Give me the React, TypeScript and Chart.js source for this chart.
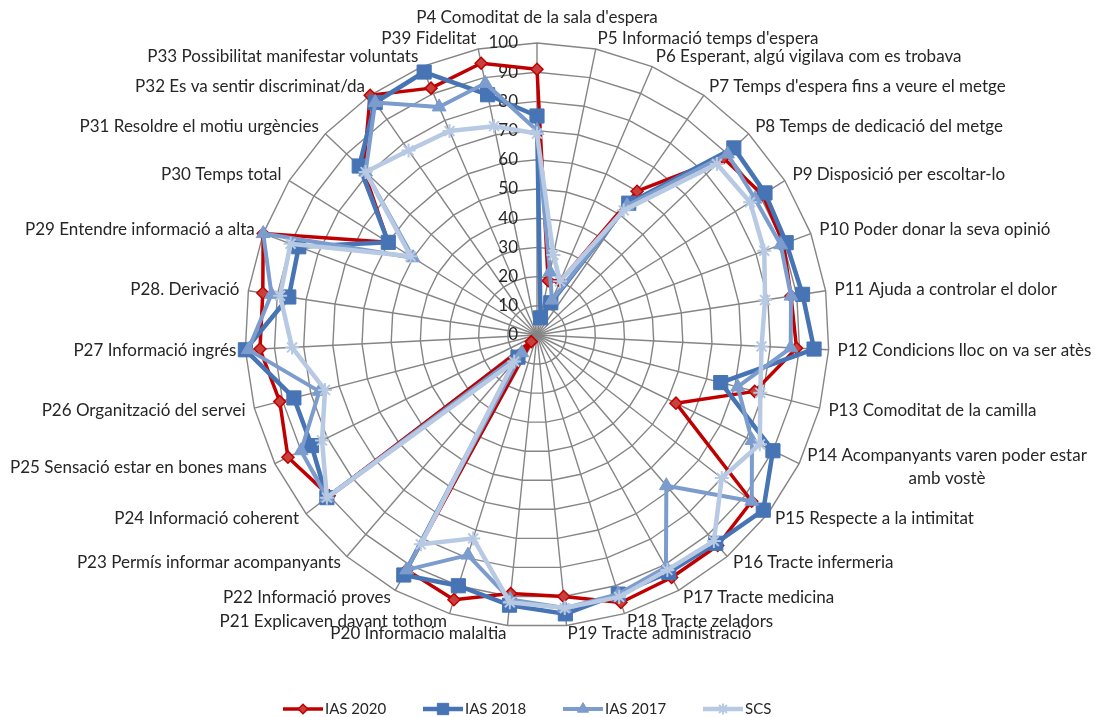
import React, { useEffect, useRef } from 'react';
import { Chart, registerables } from 'chart.js';
import { drawPoint } from 'chart.js/helpers';

Chart.register(...registerables);

const categories: (string | string[])[] = [
  'P4 Comoditat de la sala d\'espera',
  'P5 Informació temps d\'espera',
  'P6 Esperant, algú vigilava com es trobava',
  'P7 Temps d\'espera fins a veure el metge',
  'P8 Temps de dedicació del metge',
  'P9 Disposició per escoltar-lo',
  'P10 Poder donar la seva opinió',
  'P11 Ajuda a controlar el dolor',
  'P12 Condicions lloc on va ser atès',
  'P13 Comoditat de la camilla',
  ['P14 Acompanyants varen poder estar', 'amb vostè'],
  'P15 Respecte a la intimitat',
  'P16 Tracte infermeria',
  'P17 Tracte medicina',
  'P18 Tracte zeladors',
  'P19 Tracte administració',
  'P20 Informacio malaltia',
  'P21 Explicaven davant tothom',
  'P22 Informació proves',
  'P23 Permís informar acompanyants',
  'P24 Informació coherent',
  'P25 Sensació estar en bones mans',
  'P26 Organització del servei',
  'P27 Informació ingrés',
  'P28. Derivació',
  'P29 Entendre informació a alta',
  'P30 Temps total',
  'P31 Resoldre el motiu urgències',
  'P32 Es va sentir discriminat/da',
  'P33 Possibilitat manifestar voluntats',
  'P39 Fidelitat',
];

const ias2020 = [91, 19, 20, 60, 88, 91, 90, 88, 89, 77, 53, 93, 95, 95, 96, 90, 89, 95, 92, 3, 90, 95, 91, 95, 95, 100, 60, 82, 100, 92, 95];
const ias2018 = [75, 6, 12, 55, 93, 92, 91, 92, 95, 65, 90, 98, 94, 93, 93, 96, 93, 90, 94, 10, 91, 86, 86, 100, 86, 87, 60, 84, 97, 98, 84];
const ias2017 = [70, 22, 13, 54, 90, 88, 89, 88, 87, 71, 82, 93, 68, 91, 93, 94, 91, 79, 92, 8, 91, 90, 77, 99, 92, 100, 50, 81, 97, 85, 88];
const scs = [69, 28, 20, 52, 85, 86, 83, 79, 77, 79, 85, 80, 93, 92, 94, 94, 92, 73, 82, 12, 91, 82, 75, 84, 89, 90, 51, 81, 77, 76, 73];

const tickValues = [0, 10, 20, 30, 40, 50, 60, 70, 80, 90, 100];
const legendOrder = ['IAS 2020', 'IAS 2018', 'IAS 2017', 'SCS'];

const FONT = 'Lato';
const TEXT = '#262626';

const textPlugin = {
  id: 'radarText',
  beforeDatasetsDraw(chart: any) {
    const s = chart.scales.r;
    const ctx = chart.ctx;
    ctx.save();
    ctx.font = `17px ${FONT}`;
    ctx.fillStyle = TEXT;
    ctx.textAlign = 'right';
    ctx.textBaseline = 'middle';
    tickValues.forEach((v) => {
      const d = s.getDistanceFromCenterForValue(v);
      ctx.fillText(String(v), s.xCenter - 19, s.yCenter - d);
    });
    ctx.restore();
  },
  afterDraw(chart: any) {
    const s = chart.scales.r;
    const ctx = chart.ctx;
    const R = s.drawingArea;
    ctx.save();
    ctx.font = `17px ${FONT}`;
    ctx.fillStyle = TEXT;
    ctx.textBaseline = 'middle';
    ctx.textAlign = 'center';
    const lh = 23;
    categories.forEach((lab, i) => {
      const lines = Array.isArray(lab) ? lab : [lab];
      const ang = s.getIndexAngle(i);
      const sin = Math.sin(ang);
      const cos = Math.cos(ang);
      const gapX = 9;
      const gapY = i === 0 ? 25 : cos >= 0 ? 11 : 8;
      const x = s.xCenter + (R + gapX) * sin;
      const yC = s.yCenter - (R + gapY) * cos;
      const W = Math.max(...lines.map((t) => ctx.measureText(t).width));
      let left;
      if (Math.abs(sin) < 0.01) left = x - W / 2;
      else if (sin > 0) left = x;
      else left = x - W;
      const top = yC - ((lines.length - 1) * lh) / 2;
      lines.forEach((t, k) => ctx.fillText(t, left + W / 2, top + k * lh));
    });

    // legend
    const y = 709;
    ctx.font = `15px ${FONT}`;
    legendOrder.forEach((name, k) => {
      const ds = chart.data.datasets.find((d: any) => d.label === name);
      const x0 = 283 + 140 * k;
      ctx.save();
      ctx.strokeStyle = ds.borderColor;
      ctx.lineWidth = ds.borderWidth;
      ctx.beginPath();
      ctx.moveTo(x0, y);
      ctx.lineTo(x0 + 40, y);
      ctx.stroke();
      ctx.fillStyle = ds.pointBackgroundColor;
      ctx.strokeStyle = ds.pointBorderColor;
      ctx.lineWidth = ds.pointBorderWidth;
      drawPoint(ctx, { pointStyle: ds.pointStyle, radius: ds.pointRadius * 0.8, rotation: 0, borderWidth: ds.pointBorderWidth } as any, x0 + 20, y);
      ctx.restore();
      ctx.fillStyle = TEXT;
      ctx.textAlign = 'left';
      ctx.fillText(name, x0 + 42, y);
    });
    ctx.restore();
  },
};

export default function App() {
  const ref = useRef<HTMLCanvasElement>(null);
  useEffect(() => {
    if (!ref.current) return;
    const chart = new Chart(ref.current, {
      type: 'radar',
      data: {
        labels: categories as any,
        datasets: [
          {
            label: 'SCS',
            data: scs,
            borderColor: '#B7C9E3',
            borderWidth: 4.5,
            pointStyle: 'star',
            pointRadius: 7,
            pointBackgroundColor: '#B7C9E3',
            pointBorderColor: '#B7C9E3',
            pointBorderWidth: 2,
            fill: false,
          },
          {
            label: 'IAS 2017',
            data: ias2017,
            borderColor: '#7B9CCC',
            borderWidth: 4,
            pointStyle: 'triangle',
            pointRadius: 8,
            pointBackgroundColor: '#7B9CCC',
            pointBorderColor: '#7B9CCC',
            pointBorderWidth: 1,
            fill: false,
          },
          {
            label: 'IAS 2018',
            data: ias2018,
            borderColor: '#4774B4',
            borderWidth: 4.5,
            pointStyle: 'rect',
            pointRadius: 10,
            pointBackgroundColor: '#4774B4',
            pointBorderColor: '#4774B4',
            pointBorderWidth: 1,
            fill: false,
          },
          {
            label: 'IAS 2020',
            data: ias2020,
            borderColor: '#C00000',
            borderWidth: 3.5,
            pointStyle: 'rectRot',
            pointRadius: 6,
            pointBackgroundColor: '#C8403C',
            pointBorderColor: '#C00000',
            pointBorderWidth: 1.5,
            fill: false,
          },
        ] as any,
      },
      options: {
        responsive: false,
        animation: false,
        devicePixelRatio: 1,
        layout: { padding: { left: 245, top: 43, right: 264, bottom: 90 } },
        elements: { line: { tension: 0, borderJoinStyle: 'round' } },
        plugins: {
          legend: { display: false },
          tooltip: { enabled: false },
        },
        scales: {
          r: {
            min: 0,
            max: 100,
            ticks: { stepSize: 10, display: false },
            pointLabels: { display: false },
            grid: { color: '#858585', lineWidth: 1.4 },
            angleLines: { color: '#858585', lineWidth: 1.4 },
          },
        },
      } as any,
      plugins: [textPlugin],
    });
    return () => chart.destroy();
  }, []);
  return (
    <div style={{ position: 'fixed', left: 0, top: 0, width: 1093, height: 717, background: '#ffffff' }}>
      <canvas ref={ref} width={1093} height={717} style={{ display: 'block' }} />
    </div>
  );
}
